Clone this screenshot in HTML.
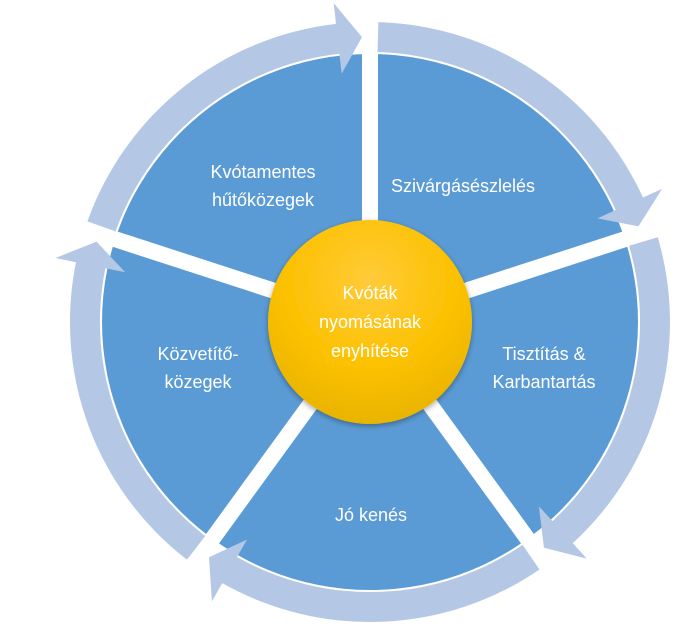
<!DOCTYPE html>
<html><head><meta charset="utf-8"><style>
html,body{margin:0;padding:0;background:#fff;width:688px;height:631px;overflow:hidden}
svg{display:block}
text{font-family:"Liberation Sans",sans-serif;font-size:18px;fill:#fff;text-anchor:middle}
</style></head><body>
<svg width="688" height="631" viewBox="0 0 688 631" xmlns="http://www.w3.org/2000/svg">
<defs>
<radialGradient id="g" cx="50%" cy="30%" r="70%">
<stop offset="0" stop-color="#FFCB3A"/><stop offset="0.6" stop-color="#FCC100"/><stop offset="1" stop-color="#E9B400"/>
</radialGradient>
<filter id="sh" x="-20%" y="-20%" width="140%" height="140%"><feDropShadow dx="0" dy="2" stdDeviation="3" flood-color="#000" flood-opacity="0.35"/></filter>
<path id="seg" d="M -282.6 -100.6 A 300 300 0 0 1 -34.0 -298.1 L -36.3 -318.9 L -8.0 -284.9 L -28.3 -248.4 L -30.6 -268.3 A 270 270 0 0 0 -254.4 -90.6 Z" fill="#B4C8E6"/>
</defs>
<g transform="translate(370,322)">
<circle r="268" fill="#5B9BD5"/>
<g stroke="#fff" stroke-width="16">
<line x1="0" y1="0" x2="0" y2="-272"/>
<line x1="0" y1="0" x2="0" y2="-272" transform="rotate(72)"/>
<line x1="0" y1="0" x2="0" y2="-272" transform="rotate(144)"/>
<line x1="0" y1="0" x2="0" y2="-272" transform="rotate(216)"/>
<line x1="0" y1="0" x2="0" y2="-272" transform="rotate(288)"/>
</g>
<use href="#seg"/>
<use href="#seg" transform="rotate(72)"/>
<use href="#seg" transform="rotate(144)"/>
<use href="#seg" transform="rotate(216)"/>
<use href="#seg" transform="rotate(288)"/>
<circle r="102" fill="url(#g)" filter="url(#sh)"/>
</g>
<text x="370" y="299">Kvóták</text>
<text x="370" y="328">nyomásának</text>
<text x="370" y="357">enyhítése</text>
<text x="263" y="178">Kvótamentes</text>
<text x="263" y="206">hűtőközegek</text>
<text x="463" y="192">Szivárgásészlelés</text>
<text x="544" y="360">Tisztítás &amp;</text>
<text x="544" y="388">Karbantartás</text>
<text x="371" y="521">Jó kenés</text>
<text x="198" y="360">Közvetítő-</text>
<text x="198" y="388">közegek</text>
</svg>
</body></html>
